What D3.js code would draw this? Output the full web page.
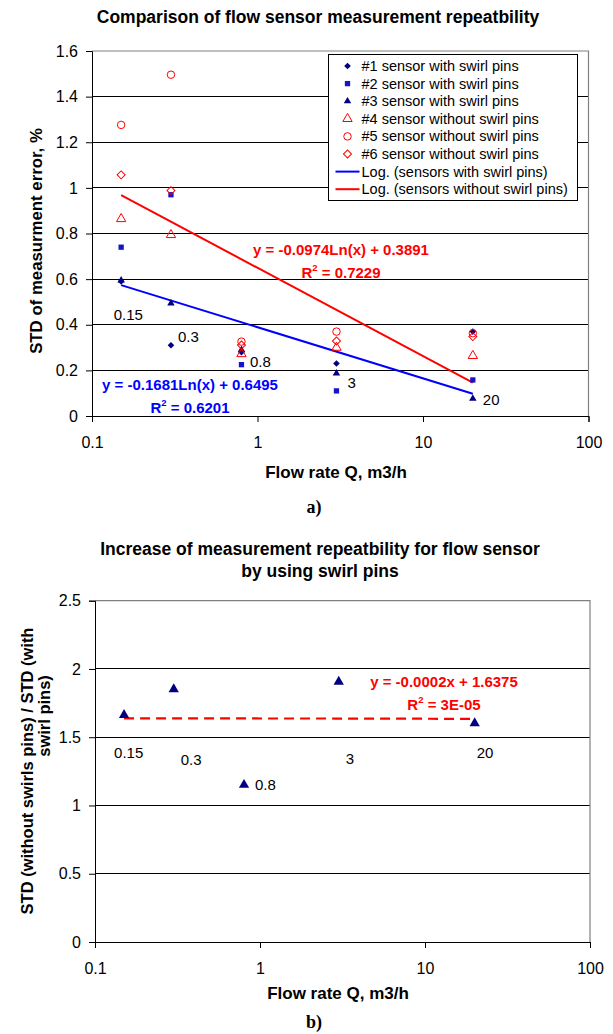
<!DOCTYPE html>
<html>
<head>
<meta charset="utf-8">
<script src="https://cdn.jsdelivr.net/npm/d3@7"></script>
<style>
  body { margin: 0; background: #fff; }
  svg { display: block; font-family: "Liberation Sans", Arial, sans-serif; }
</style>
</head>
<body>
<svg id="chart" width="613" height="1034"></svg>
<script>
// flow rates (m3/h)
const flowRates = [0.15, 0.3, 0.8, 3, 20];

const sensor1 = [0.59, 0.31, 0.28, 0.23, 0.37];
const sensor2 = [0.74, 0.97, 0.225, 0.11, 0.158];
const sensor3 = [0.595, 0.494, 0.29, 0.187, 0.076];
const sensor4 = [0.864, 0.794, 0.272, 0.30, 0.264];
const sensor5 = [1.276, 1.496, 0.326, 0.37, 0.363];
const sensor6 = [1.057, 0.988, 0.311, 0.329, 0.348];

// ratio STD(without) / STD(with)
const ratio = [1.663, 1.851, 1.151, 1.907, 1.602];

// trend line coefficients (as drawn)
const logTrendWith = { a: -0.0974, b: 0.3891 };
const logTrendWithout = { a: -0.1681, b: 0.6495 };
const linTrend = { a: -0.0002, b: 1.6375 };

const xTicks = [0.1, 1, 10, 100];
const yTicksTop = [0, 0.2, 0.4, 0.6, 0.8, 1, 1.2, 1.4, 1.6];
const yTicksBottom = [0, 0.5, 1, 1.5, 2, 2.5];

const pointLabels = ['0.15', '0.3', '0.8', '3', '20'];
const topLabelY = [0.446, 0.348, 0.236, 0.146, 0.07];
const bottomLabelY = [1.387, 1.334, 1.151, 1.341, 1.387];

const legendNames = [
  '#1 sensor with swirl pins',
  '#2 sensor with swirl pins',
  '#3 sensor with swirl pins',
  '#4 sensor without swirl pins',
  '#5 sensor without swirl pins',
  '#6 sensor without swirl pins',
  'Log. (sensors with swirl pins)',
  'Log. (sensors without swirl pins)'
];

const svg = d3.select('#chart');
const navy = '#000080';

// diamonds = squares turned 45 degrees, like Excel markers
const series = [
  { values: sensor1, symbol: d3.symbolSquare, rot: 45, size: 22, fill: navy, stroke: 'none' },
  { values: sensor2, symbol: d3.symbolSquare, rot: 0, size: 28, fill: '#1414c8', stroke: 'none' },
  { values: sensor3, symbol: d3.symbolTriangle, rot: 0, size: 24, fill: navy, stroke: 'none' },
  { values: sensor4, symbol: d3.symbolTriangle, rot: 0, size: 38, fill: 'none', stroke: '#ff0000' },
  { values: sensor5, symbol: d3.symbolCircle, rot: 0, size: 44, fill: 'none', stroke: '#ff0000' },
  { values: sensor6, symbol: d3.symbolSquare, rot: 45, size: 32, fill: 'none', stroke: '#ff0000' }
];

function fmt(d) { return String(d); }

function styleAxis(ax) {
  ax.selectAll('text').attr('font-size', 16).attr('fill', '#000')
    .attr('font-family', '"Liberation Sans", Arial, sans-serif');
  ax.selectAll('line, path').attr('stroke', '#000');
}

function boldText(x, y, size, txt, rotate) {
  return svg.append('text')
    .attr('transform', `translate(${x},${y})` + (rotate ? ' rotate(-90)' : ''))
    .attr('text-anchor', 'middle').attr('font-weight', 'bold')
    .attr('font-size', size).text(txt);
}

// ---------- top chart ----------
const xTop = d3.scaleLog().domain([0.1, 100]).range([92, 588.5]);
const yTop = d3.scaleLinear().domain([0, 1.6]).range([416, 51]);

const gTop = svg.append('g');

// grid lines
gTop.selectAll('line.grid')
  .data(yTicksTop.filter(d => d > 0 && d < 1.6))
  .enter().append('line')
  .attr('x1', xTop(0.1)).attr('x2', xTop(100))
  .attr('y1', d => yTop(d)).attr('y2', d => yTop(d))
  .attr('stroke', '#000').attr('stroke-width', 1).attr('shape-rendering', 'crispEdges');

// plot border top/right
gTop.append('path')
  .attr('d', `M${xTop(0.1)},${yTop(1.6)}H${xTop(100)}V${yTop(0)}`)
  .attr('fill', 'none').attr('stroke', '#808080').attr('stroke-width', 1.2);

const yAxisTop = gTop.append('g')
  .attr('transform', `translate(${xTop(0.1)},0)`)
  .call(d3.axisLeft(yTop).tickValues(yTicksTop).tickFormat(fmt).tickSize(6).tickPadding(8));
const xAxisTop = gTop.append('g')
  .attr('transform', `translate(0,${yTop(0)})`)
  .call(d3.axisBottom(xTop).tickValues(xTicks).tickFormat(fmt).tickSize(6).tickPadding(15));
styleAxis(yAxisTop);
styleAxis(xAxisTop);

// trend lines (straight on a log x axis)
const trendXs = [0.15, 20];
const lineTop = d3.line().x(d => xTop(d[0])).y(d => yTop(d[1]));
gTop.append('path')
  .attr('d', lineTop(trendXs.map(x => [x, logTrendWith.a * Math.log(x) + logTrendWith.b])))
  .attr('stroke', '#0000ff').attr('stroke-width', 2).attr('fill', 'none');
gTop.append('path')
  .attr('d', lineTop(trendXs.map(x => [x, logTrendWithout.a * Math.log(x) + logTrendWithout.b])))
  .attr('stroke', '#ff0000').attr('stroke-width', 2).attr('fill', 'none');

// markers
series.forEach(s => {
  gTop.append('g').selectAll('path')
    .data(s.values)
    .enter().append('path')
    .attr('d', d3.symbol().type(s.symbol).size(s.size))
    .attr('transform', (d, i) => `translate(${xTop(flowRates[i])},${yTop(d)}) rotate(${s.rot})`)
    .attr('fill', s.fill).attr('stroke', s.stroke).attr('stroke-width', 1);
});

// point labels
const topDx = [-7.5, 7, 8.5, 11, 10];
gTop.selectAll('text.plabel')
  .data(pointLabels)
  .enter().append('text')
  .attr('x', (d, i) => xTop(flowRates[i]) + topDx[i])
  .attr('y', (d, i) => yTop(topLabelY[i]))
  .attr('dy', '0.35em')
  .attr('font-size', 15)
  .text(d => d);

// equations
function equation(g, x, y, color, line1, r2) {
  g.append('text').attr('text-anchor', 'middle').attr('font-weight', 'bold')
    .attr('font-size', 15).attr('fill', color).attr('x', x).attr('y', y).text(line1);
  const t2 = g.append('text').attr('text-anchor', 'middle').attr('font-weight', 'bold')
    .attr('font-size', 15).attr('fill', color).attr('x', x).attr('y', y + 23);
  t2.append('tspan').text('R');
  t2.append('tspan').attr('font-size', 9.5).attr('dy', -7).text('2');
  t2.append('tspan').attr('dy', 7).text(' = ' + r2);
}
equation(gTop, 341, 254.5, '#ff0000', 'y = -0.0974Ln(x) + 0.3891', '0.7229');
equation(gTop, 190, 390, '#0000ff', 'y = -0.1681Ln(x) + 0.6495', '0.6201');

// legend
const lg = gTop.append('g').attr('transform', 'translate(328.5,54.5)');
lg.append('rect').attr('width', 249).attr('height', 146)
  .attr('fill', '#fff').attr('stroke', '#000').attr('stroke-width', 1);
const legendItems = series.concat([{ line: '#0000ff' }, { line: '#ff0000' }]);
legendItems.forEach((s, i) => {
  const y = 11.5 + i * 17.6;
  if (s.line) {
    lg.append('line').attr('x1', 7).attr('x2', 31).attr('y1', y).attr('y2', y)
      .attr('stroke', s.line).attr('stroke-width', 2);
  } else {
    lg.append('path')
      .attr('d', d3.symbol().type(s.symbol).size(s.size))
      .attr('transform', `translate(19,${y}) rotate(${s.rot})`)
      .attr('fill', s.fill).attr('stroke', s.stroke).attr('stroke-width', 1);
  }
  lg.append('text').attr('x', 33).attr('y', y).attr('dy', '0.35em')
    .attr('font-size', 14.5).text(legendNames[i]);
});

// titles
boldText(318, 23, 17.5, 'Comparison of flow sensor measurement repeatbility');
boldText(336, 478, 17, 'Flow rate Q, m3/h');
boldText(42, 241, 16.8, 'STD of measurment error, %', true);
svg.append('text').attr('x', 314).attr('y', 513).attr('text-anchor', 'middle')
  .attr('font-family', '"Liberation Serif", "Times New Roman", serif')
  .attr('font-weight', 'bold').attr('font-size', 18).text('a)');

// ---------- bottom chart ----------
const xBot = d3.scaleLog().domain([0.1, 100]).range([95, 590]);
const yBot = d3.scaleLinear().domain([0, 2.5]).range([942, 600.7]);

const gBot = svg.append('g');

gBot.selectAll('line.grid')
  .data(yTicksBottom.filter(d => d > 0 && d < 2.5))
  .enter().append('line')
  .attr('x1', xBot(0.1)).attr('x2', xBot(100))
  .attr('y1', d => yBot(d)).attr('y2', d => yBot(d))
  .attr('stroke', '#000').attr('stroke-width', 1).attr('shape-rendering', 'crispEdges');

gBot.append('path')
  .attr('d', `M${xBot(0.1)},${yBot(2.5)}H${xBot(100)}V${yBot(0)}`)
  .attr('fill', 'none').attr('stroke', '#808080').attr('stroke-width', 1.2);

const yAxisBot = gBot.append('g')
  .attr('transform', `translate(${xBot(0.1)},0)`)
  .call(d3.axisLeft(yBot).tickValues(yTicksBottom).tickFormat(fmt).tickSize(6).tickPadding(8));
const xAxisBot = gBot.append('g')
  .attr('transform', `translate(0,${yBot(0)})`)
  .call(d3.axisBottom(xBot).tickValues(xTicks).tickFormat(fmt).tickSize(6).tickPadding(15));
styleAxis(yAxisBot);
styleAxis(xAxisBot);

// linear trend (curved on log axis), sampled along x
const trendSamples = d3.range(0, 41).map(i => 0.15 * Math.pow(20 / 0.15, i / 40));
gBot.append('path')
  .attr('d', d3.line().x(d => xBot(d)).y(d => yBot(linTrend.a * d + linTrend.b))(trendSamples))
  .attr('stroke', '#ff0000').attr('stroke-width', 2.2).attr('fill', 'none')
  .attr('stroke-dasharray', '10,6');

gBot.append('g').selectAll('path')
  .data(ratio)
  .enter().append('path')
  .attr('d', d3.symbol().type(d3.symbolTriangle).size(46))
  .attr('transform', (d, i) => `translate(${xBot(flowRates[i])},${yBot(d)})`)
  .attr('fill', navy);

const botDx = [-10, 7, 11, 7, 2];
gBot.selectAll('text.plabel')
  .data(pointLabels)
  .enter().append('text')
  .attr('x', (d, i) => xBot(flowRates[i]) + botDx[i])
  .attr('y', (d, i) => yBot(bottomLabelY[i]))
  .attr('dy', '0.35em')
  .attr('font-size', 15)
  .text(d => d);

equation(gBot, 444, 687, '#ff0000', 'y = -0.0002x + 1.6375', '3E-05');

boldText(320, 555, 17.5, 'Increase of measurement repeatbility for flow sensor');
boldText(320, 577, 17.5, 'by using swirl pins');
boldText(338, 999, 17, 'Flow rate Q, m3/h');
boldText(33, 771, 16.5, 'STD (without swirls pins) / STD (with', true);
boldText(50, 716, 16.5, 'swirl pins)', true);
svg.append('text').attr('x', 314).attr('y', 1028).attr('text-anchor', 'middle')
  .attr('font-family', '"Liberation Serif", "Times New Roman", serif')
  .attr('font-weight', 'bold').attr('font-size', 18).text('b)');
</script>
</body>
</html>
